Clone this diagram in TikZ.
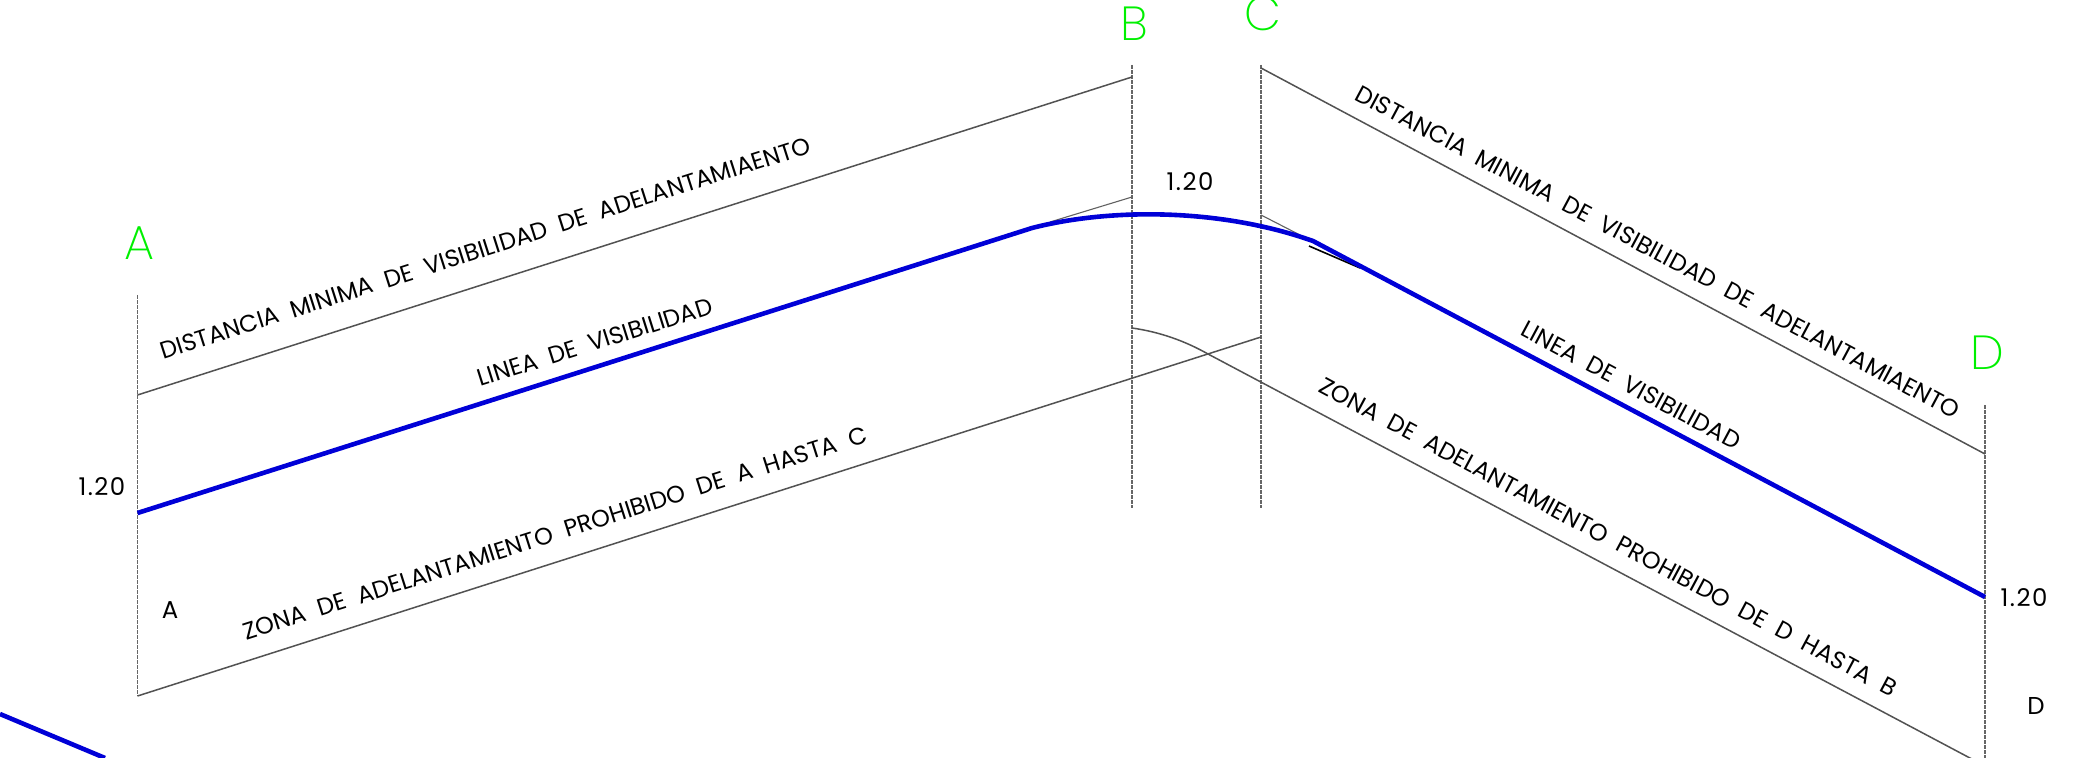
\documentclass[tikz,border=0pt]{standalone}
\usepackage{fontspec}
\setmainfont{Poppins}
\newfontfamily\numf[LetterSpace=6]{Poppins}
\newfontfamily\bigf{Poppins ExtraLight}
\definecolor{pure}{RGB}{0,240,0}
\definecolor{sightc}{RGB}{0,0,215}
\begin{document}
\begin{tikzpicture}[x=1bp,y=-1bp,
  guide/.style={draw=black!60,line width=1.5bp,dash pattern=on 4bp off 1bp},
  edgeline/.style={draw=black!68,line width=1.5bp},
  thinline/.style={draw=black!62,line width=1.1bp},
  sight/.style={draw=sightc,line width=4.6bp},
  lab/.style={font=\fontsize{24}{24}\selectfont,inner sep=0pt,text=black},
  num/.style={font=\numf\fontsize{24.5}{24.5}\selectfont,inner sep=0pt,text=black},
  big/.style={font=\bigf\fontsize{48}{48}\selectfont,inner sep=0pt,text=pure}]
\useasboundingbox (0,0) rectangle (2080,758);
\clip (0,0) rectangle (2080,758);
\fill[white] (0,0) rectangle (2080,758);
% reference points
\coordinate (At) at (137.5,295); \coordinate (Ab) at (137.5,696);
\coordinate (Bt) at (1132,65);   \coordinate (Bb) at (1132,508);
\coordinate (Ct) at (1261,65);   \coordinate (Cb) at (1261,508);
\coordinate (Dt) at (1985,405);  \coordinate (Db) at (1985,758);
\coordinate (tl1) at (137.5,395); \coordinate (tl2) at (1132,77);
\coordinate (tr1) at (1261,68);   \coordinate (tr2) at (1985,454);
\coordinate (bl1) at (137.5,696); \coordinate (bl2) at (1261,337);
\coordinate (ar1) at (1132,328);  \coordinate (ar2) at (1208,354);
\coordinate (br2) at (1985,766);
\coordinate (s1) at (137.5,513); \coordinate (s2) at (1032,228);
\coordinate (s3) at (1313,241);  \coordinate (s4) at (1985,597);
\coordinate (t1) at (1050,222); \coordinate (t2) at (1132,197);
\coordinate (t3) at (1261,215); \coordinate (t4) at (1300,235);
\coordinate (k1) at (1309,246); \coordinate (k2) at (1360,268);
\coordinate (x1) at (0,714); \coordinate (x2) at (105,758);
% guides
\draw[guide] (At)--(Ab);
\draw[guide] (Bt)--(Bb);
\draw[guide] (Ct)--(Cb);
\draw[guide] (Dt)--(Db);
% outlines
\draw[edgeline] (tl1)--(tl2);
\draw[edgeline] (tr1)--(tr2);
\draw[edgeline] (bl1)--(bl2);
\draw[edgeline] (ar1) .. controls (1160,332) and (1185,341) .. (ar2) -- (br2);
\draw[thinline] (t1)--(t2);
\draw[thinline] (t3)--(t4);
\draw[black,line width=1.6bp] (k1)--(k2);
% sight line
\draw[sight] (s1)--(s2) .. controls (1110,208) and (1220,208) .. (s3) -- (s4);
\draw[sight] (x1)--(x2);
% labels
\node[lab,rotate=17.7] (d1) at (485.5,248) {DISTANCIA\ \ MINIMA\ \ DE\ \ VISIBILIDAD\ \ DE\ \ ADELANTAMIAENTO};
\node[lab,rotate=17.5] (l1) at (595,342) {LINEA\ \ DE\ \ VISIBILIDAD};
\node[lab,rotate=17.7] (z1) at (555,533) {ZONA\ \ DE\ \ ADELANTAMIENTO\ \ PROHIBIDO\ \ DE\ \ A\ \ HASTA\ \ C};
\node[lab,rotate=-28.1] (d2) at (1658,252) {DISTANCIA\ \ MINIMA\ \ DE\ \ VISIBILIDAD\ \ DE\ \ ADELANTAMIAENTO};
\node[lab,rotate=-28.1] (l2) at (1631,385) {LINEA\ \ DE\ \ VISIBILIDAD};
\node[lab,rotate=-28.1] (z2) at (1608,537) {ZONA\ \ DE\ \ ADELANTAMIENTO\ \ PROHIBIDO\ \ DE\ \ D\ \ HASTA\ \ B};
\node[num] (n1) at (102,487) {1.20};
\node[num] (n2) at (1190,182) {1.20};
\node[num] (n3) at (2024,598) {1.20};
\node[num] (a0) at (170,610) {A};
\node[num] (d0) at (2036,706) {D};
\node[big] (A) at (139,243) {A};
\node[big] (B) at (1134,24) {B};
\node[big] (C) at (1263,14) {C};
\node[big] (D) at (1987,353) {D};
\end{tikzpicture}
\end{document}
